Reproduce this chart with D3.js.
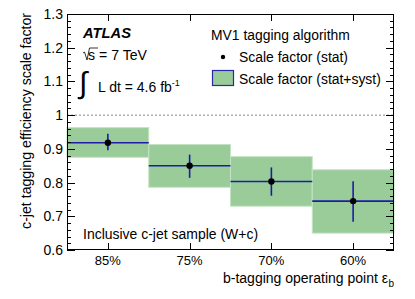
<!DOCTYPE html>
<html><head><meta charset="utf-8">
<script src="https://cdn.jsdelivr.net/npm/d3@7"></script>
<style>body{margin:0;background:#fff}svg{display:block}text{font-family:"Liberation Sans",Arial,sans-serif;fill:#000}</style>
</head><body>
<script>
const categories = ["85%", "75%", "70%", "60%"];
const centralValues = [0.918, 0.850, 0.803, 0.745];
const statUp = [0.945, 0.883, 0.845, 0.804];
const statDown = [0.896, 0.814, 0.761, 0.684];
const systUp = [0.963, 0.913, 0.877, 0.838];
const systDown = [0.875, 0.786, 0.730, 0.650];
const yTicks = [0.6, 0.7, 0.8, 0.9, 1, 1.1, 1.2, 1.3];

const W = 415, H = 299;
const m = {l: 67, r: 21, t: 14, b: 49};
const svg = d3.select("body").append("svg").attr("width", W).attr("height", H);
const x = d3.scaleBand().domain(categories).range([m.l, W - m.r]).padding(0);
const y = d3.scaleLinear().domain([0.6, 1.3]).range([H - m.b, m.t]);
const g = svg.append("g");

function fit(sel, target) {
  const fs = +sel.attr("font-size");
  const w = sel.node().getComputedTextLength();
  if (w > 0) sel.attr("font-size", (fs * target / w).toFixed(2));
  return sel;
}

// syst bands
g.selectAll("rect.syst").data(categories).join("rect")
  .attr("x", d => x(d)).attr("width", x.bandwidth())
  .attr("y", (d, i) => y(systUp[i])).attr("height", (d, i) => y(systDown[i]) - y(systUp[i]))
  .attr("fill", "#99cc99").attr("stroke", "#c4e3c4").attr("stroke-width", 1);

// dashed line at 1
g.append("line").attr("x1", m.l).attr("x2", W - m.r).attr("y1", y(1)).attr("y2", y(1))
  .attr("stroke", "#888").attr("stroke-dasharray", "2,2").attr("stroke-width", 1);

// horizontal blue lines
g.selectAll("line.h").data(categories).join("line")
  .attr("x1", d => x(d)).attr("x2", d => x(d) + x.bandwidth())
  .attr("y1", (d, i) => y(centralValues[i])).attr("y2", (d, i) => y(centralValues[i]))
  .attr("stroke", "#1c1ca8").attr("stroke-width", 1.6);
// stat error bars
g.selectAll("line.v").data(categories).join("line")
  .attr("x1", d => x(d) + x.bandwidth() / 2).attr("x2", d => x(d) + x.bandwidth() / 2)
  .attr("y1", (d, i) => y(statUp[i])).attr("y2", (d, i) => y(statDown[i]))
  .attr("stroke", "#1c1ca8").attr("stroke-width", 1.6);
g.selectAll("circle").data(categories).join("circle")
  .attr("cx", d => x(d) + x.bandwidth() / 2).attr("cy", (d, i) => y(centralValues[i]))
  .attr("r", 3.2).attr("fill", "#000");

// frame
const ax = svg.append("g").attr("stroke", "#000").attr("stroke-width", 1);
ax.append("rect").attr("x", m.l + 0.5).attr("y", m.t + 0.5)
  .attr("width", W - m.r - m.l - 1).attr("height", H - m.b - m.t - 1)
  .attr("fill", "none").attr("stroke", "#000");

// y ticks
const minor = d3.range(0.6, 1.3001, 0.02);
minor.forEach(v => {
  const isMajor = Math.abs(v * 10 - Math.round(v * 10)) < 1e-6;
  const len = isMajor ? 8 : 4;
  const yy = Math.round(y(v)) + 0.5;
  ax.append("line").attr("x1", m.l).attr("x2", m.l + len).attr("y1", yy).attr("y2", yy);
  ax.append("line").attr("x1", W - m.r).attr("x2", W - m.r - len).attr("y1", yy).attr("y2", yy);
});
svg.selectAll("text.yt").data(yTicks).join("text")
  .attr("x", m.l - 4).attr("y", d => y(d) + 5)
  .attr("text-anchor", "end").attr("font-size", 14)
  .text(d => d === 1 ? "1" : d3.format(".1f")(d));

// x ticks
categories.forEach(c => {
  const xx = Math.round(x(c) + x.bandwidth() / 2) + 0.5;
  ax.append("line").attr("x1", xx).attr("x2", xx).attr("y1", H - m.b).attr("y2", H - m.b - 7);
  ax.append("line").attr("x1", xx).attr("x2", xx).attr("y1", m.t).attr("y2", m.t + 7);
});
svg.selectAll("text.xt").data(categories).join("text")
  .attr("x", d => x(d) + x.bandwidth() / 2).attr("y", 265)
  .attr("text-anchor", "middle").attr("font-size", 13).text(d => d);

// axis titles
const xt = svg.append("text").attr("x", 388).attr("y", 283).attr("text-anchor", "end").attr("font-size", 14);
xt.text("b-tagging operating point ε");
fit(xt, 165);
svg.append("text").attr("x", 388.5).attr("y", 287).attr("font-size", 10).text("b");
const yt = svg.append("text").attr("transform", `translate(31,121) rotate(-90)`)
  .attr("text-anchor", "middle").attr("font-size", 14).text("c-jet tagging efficiency scale factor");
fit(yt, 216);

// ATLAS labels
fit(svg.append("text").attr("x", 83).attr("y", 38).attr("font-size", 14).attr("font-weight", "bold").attr("font-style", "italic").text("ATLAS"), 48);
// sqrt s
svg.append("path").attr("d", "M83,53 L84.5,52 L87,60 L89.5,48 L98,48").attr("fill", "none").attr("stroke", "#000").attr("stroke-width", 0.8);
fit(svg.append("text").attr("x", 88).attr("y", 60).attr("font-size", 14).text("s = 7 TeV"), 59);
svg.append("text").attr("x", 79).attr("y", 93).attr("font-size", 30).attr("font-family", "DejaVu Sans").text("∫");
const lt = svg.append("text").attr("x", 98).attr("y", 92).attr("font-size", 14);
lt.append("tspan").text("L dt = 4.6 fb");
lt.append("tspan").attr("font-size", 9).attr("dy", -6).text("-1");

// legend
fit(svg.append("text").attr("x", 211).attr("y", 40).attr("font-size", 14).text("MV1 tagging algorithm"), 139);
svg.append("circle").attr("cx", 223).attr("cy", 57).attr("r", 2.2).attr("fill", "#000");
fit(svg.append("text").attr("x", 239).attr("y", 62).attr("font-size", 14).text("Scale factor (stat)"), 109);
svg.append("rect").attr("x", 212.5).attr("y", 70.5).attr("width", 21).attr("height", 15)
  .attr("fill", "#99cc99").attr("stroke", "#2a2aa8").attr("stroke-width", 1.2);
fit(svg.append("text").attr("x", 239).attr("y", 84).attr("font-size", 14).text("Scale factor (stat+syst)"), 142);

fit(svg.append("text").attr("x", 83).attr("y", 239).attr("font-size", 14).text("Inclusive c-jet sample (W+c)"), 175);
</script>
</body></html>
